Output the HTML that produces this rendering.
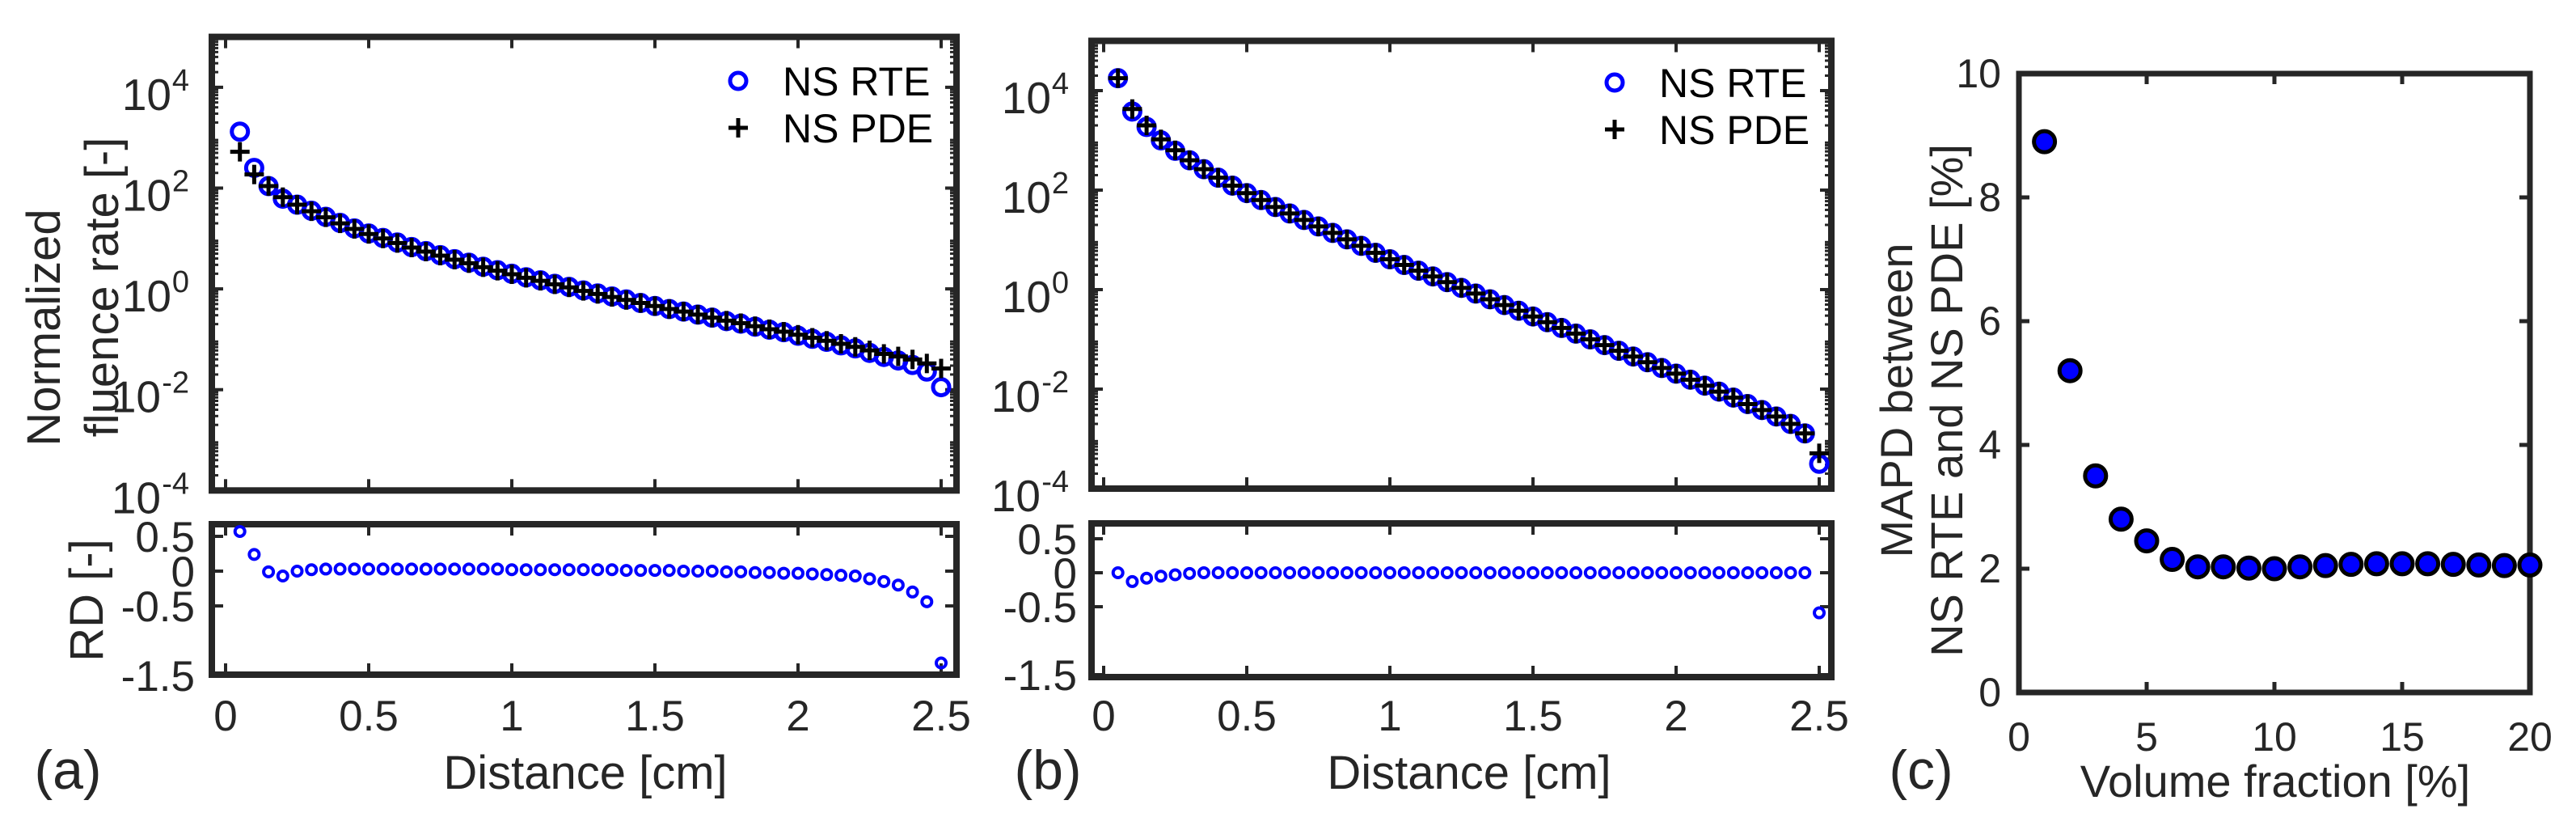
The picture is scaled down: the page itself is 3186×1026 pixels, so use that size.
<!DOCTYPE html>
<html><head><meta charset="utf-8"><style>
html,body{margin:0;padding:0;background:#fff;}
svg{display:block;font-family:"Liberation Sans",Arial,sans-serif;}
</style></head><body>
<svg id="fig" width="3186" height="1026" viewBox="0 0 3186 1026" xmlns="http://www.w3.org/2000/svg">
<rect width="3186" height="1026" fill="#fff"/>
</svg>
<script>
// ---------- data ----------
const distance = [0.05,0.10,0.15,0.20,0.25,0.30,0.35,0.40,0.45,0.50,0.55,0.60,0.65,0.70,0.75,0.80,0.85,0.90,0.95,1.00,1.05,1.10,1.15,1.20,1.25,1.30,1.35,1.40,1.45,1.50,1.55,1.60,1.65,1.70,1.75,1.80,1.85,1.90,1.95,2.00,2.05,2.10,2.15,2.20,2.25,2.30,2.35,2.40,2.45,2.50];
// panel (a): log10 of normalized fluence rate
const aPdeLog = [2.72,2.27,2.04,1.82,1.67,1.54,1.42,1.30,1.19,1.09,1.00,0.91,0.82,0.74,0.66,0.58,0.51,0.43,0.36,0.29,0.22,0.16,0.09,0.03,-0.04,-0.10,-0.16,-0.22,-0.28,-0.34,-0.40,-0.45,-0.51,-0.57,-0.63,-0.68,-0.74,-0.80,-0.85,-0.91,-0.97,-1.03,-1.09,-1.15,-1.22,-1.29,-1.34,-1.40,-1.48,-1.58];
const aRteLog = [3.12,2.40,2.04,1.79,1.67,1.55,1.43,1.31,1.20,1.10,1.01,0.92,0.83,0.75,0.67,0.59,0.52,0.44,0.37,0.30,0.23,0.17,0.10,0.04,-0.03,-0.09,-0.15,-0.21,-0.28,-0.34,-0.40,-0.45,-0.51,-0.57,-0.64,-0.69,-0.75,-0.81,-0.86,-0.93,-0.99,-1.05,-1.12,-1.18,-1.27,-1.35,-1.42,-1.51,-1.64,-1.95];
const aRD = [0.57,0.24,-0.01,-0.07,0.0,0.02,0.03,0.03,0.03,0.03,0.03,0.03,0.03,0.03,0.03,0.03,0.03,0.03,0.03,0.02,0.02,0.02,0.02,0.02,0.02,0.02,0.02,0.01,0.01,0.01,0.01,0.0,0.0,0.0,-0.01,-0.01,-0.02,-0.02,-0.03,-0.03,-0.04,-0.05,-0.06,-0.07,-0.11,-0.15,-0.20,-0.30,-0.44,-1.32];
// panel (b)
const bPdeLog = [4.25,3.63,3.30,3.02,2.80,2.60,2.42,2.25,2.09,1.94,1.80,1.66,1.53,1.40,1.27,1.14,1.01,0.88,0.74,0.61,0.495,0.38,0.265,0.15,0.035,-0.08,-0.195,-0.31,-0.425,-0.54,-0.655,-0.77,-0.885,-1.00,-1.115,-1.23,-1.345,-1.46,-1.575,-1.69,-1.81,-1.93,-2.05,-2.17,-2.30,-2.42,-2.55,-2.70,-2.89,-3.29];
const bRteLog = [4.25,3.58,3.27,3.00,2.79,2.60,2.42,2.25,2.09,1.94,1.80,1.66,1.53,1.40,1.27,1.14,1.01,0.88,0.74,0.61,0.495,0.38,0.265,0.15,0.035,-0.08,-0.195,-0.31,-0.425,-0.54,-0.655,-0.77,-0.885,-1.00,-1.115,-1.23,-1.345,-1.46,-1.575,-1.69,-1.81,-1.93,-2.05,-2.17,-2.30,-2.42,-2.55,-2.70,-2.89,-3.50];
const bRD = [0.0,-0.13,-0.08,-0.05,-0.03,-0.01,0,0,0,0,0,0,0,0,0,0,0,0,0,0,0,0,0,0,0,0,0,0,0,0,0,0,0,0,0,0,0,0,0,0,0,0,0,0,0,0,0,0,0,-0.59];
// panel (c)
const volFrac = [1,2,3,4,5,6,7,8,9,10,11,12,13,14,15,16,17,18,19,20];
const mapd = [8.9,5.2,3.5,2.8,2.45,2.15,2.03,2.03,2.01,2.0,2.03,2.05,2.07,2.08,2.08,2.08,2.07,2.06,2.05,2.06];
const distTicks = [0,0.5,1,1.5,2,2.5];
const distTickLabels = ["0","0.5","1","1.5","2","2.5"];
const logTicks = [4,2,0,-2,-4];
const rdTicks = [0.5,0,-0.5,-1.5];
const rdTickLabels = ["0.5","0","-0.5","-1.5"];
const cXTicks = [0,5,10,15,20];
const cYTicks = [0,2,4,6,8,10];

// ---------- helpers ----------
const NS = "http://www.w3.org/2000/svg";
const svg = document.getElementById("fig");
const INK = "#262626";
function mk(tag, attrs, parent){
  const e = document.createElementNS(NS, tag);
  for (const k in attrs) e.setAttribute(k, attrs[k]);
  (parent||svg).appendChild(e);
  return e;
}
function grp(name){
  const g = mk("g", {});
  
  
  return g;
}
function txt(parent, name, x, y, s, size, anchor, extra){
  const t = mk("text", Object.assign({x:x, y:y, "font-size":size, fill:INK, "text-anchor":anchor||"middle"}, extra||{}), parent);
  t.textContent = s;
  
  
  return t;
}
function box(parent, name, l, t, r, b, w){
  const e = mk("rect", {x:l, y:t, width:r-l, height:b-t, fill:"none", stroke:INK, "stroke-width":w}, parent);
  
  
}
function line(parent, x1,y1,x2,y2,w,col){
  return mk("line",{x1:x1,y1:y1,x2:x2,y2:y2,stroke:col||INK,"stroke-width":w},parent);
}
function circ(parent, name, cx, cy, r, sw){
  const c = mk("circle",{cx:cx,cy:cy,r:r,fill:"none",stroke:"#0000ff","stroke-width":sw},parent);
  
  
}
function plus(parent, name, cx, cy, h){
  const g = mk("g",{},parent);
  
  
  line(g,cx-h,cy,cx+h,cy,5,"#000");
  line(g,cx,cy-h,cx,cy+h,5,"#000");
}

// ---------- distance panels ----------
function distPanel(id, P){
  const g = grp("panel-"+id);
  const xS = v => P.x0 + v*P.xu;
  const yL = v => P.top + (5 - v)*P.dec;
  const yR = v => P.r0 - v*P.ru;
  const top = P.top, bot = P.top + 9*P.dec;
  const ax = grp("fluence-axes-"+id); g.appendChild(ax);
  for (let d=-4; d<5; d++){
    for (let m=2; m<=9; m++){
      const y = yL(d + Math.log10(m));
      line(ax, P.l, y, P.l+8, y, 3); line(ax, P.r, y, P.r-8, y, 3);
    }
  }
  logTicks.forEach(v=>{
    const y=yL(v);
    line(ax,P.l,y,P.l+14,y,4); line(ax,P.r,y,P.r-14,y,4);
    const es = String(v);
    const ew = es.length>1 ? 35 : 22;
    txt(ax, "y-tick-label", P.l-28-ew, y+28, "10", 55, "end");
    txt(ax, "y-tick-exponent", P.l-28, y+4, es, 38, "end");
  });
  distTicks.forEach(v=>{
    const x=xS(v);
    line(ax,x,top,x,top+14,4); line(ax,x,bot,x,bot-14,4);
  });
  box(ax, "fluence-plot-frame-"+id, P.l, top, P.r, bot, 8);
  const sR = grp("series-ns-rte-"+id); g.appendChild(sR);
  const rte = P.rte, pde = P.pde;
  distance.forEach((d,i)=>{ circ(sR, "rte-point", xS(d), yL(rte[i]), 10, 5); });
  const sP = grp("series-ns-pde-"+id); g.appendChild(sP);
  distance.forEach((d,i)=>{ plus(sP, "pde-point", xS(d), yL(pde[i]), 12); });
  const lg = grp("legend-"+id); g.appendChild(lg);
  circ(lg, "legend-rte-marker", P.legX, P.legY, 10, 5);
  txt(lg, "legend-rte-label", P.legX+55, P.legY+18, "NS RTE", 50, "start", {fill:"#000"});
  plus(lg, "legend-pde-marker", P.legX, P.legY+58, 12);
  txt(lg, "legend-pde-label", P.legX+55, P.legY+76, "NS PDE", 50, "start", {fill:"#000"});
  const rd = grp("rd-axes-"+id); g.appendChild(rd);
  rdTicks.forEach((v,i)=>{
    const y=yR(v);
    line(rd,P.l,y,P.l+14,y,4); line(rd,P.r,y,P.r-14,y,4);
    txt(rd, "rd-tick-label", P.rdLabR, y+19, rdTickLabels[i], 53, "end");
  });
  distTicks.forEach((v,i)=>{
    const x=xS(v);
    line(rd,x,P.rTop,x,P.rTop+14,4); line(rd,x,P.rBot,x,P.rBot-14,4);
    txt(rd, "x-tick-label", x, 903, distTickLabels[i], 53, "middle");
  });
  box(rd, "rd-plot-frame-"+id, P.l, P.rTop, P.r, P.rBot, 8);
  const sD = grp("series-rd-"+id); g.appendChild(sD);
  distance.forEach((d,i)=>{ circ(sD, "rd-point", xS(d), yR(P.rd[i]), 6, 4); });
  txt(g, "x-axis-title", P.xtX, 975, "Distance [cm]", 58, "middle");
  txt(g, "panel-label", P.labX, 975, "("+id+")", 68, "middle");
  return g;
}
distPanel("a", {l:262, r:1183, x0:279, xu:354, top:45.6, dec:62.3, r0:706, ru:86, rTop:648, rBot:834,
  rte:aRteLog, pde:aPdeLog, rd:aRD, legX:913, legY:100, rdLabR:241, xtX:724, labX:84});
distPanel("b", {l:1350, r:2265, x0:1365, xu:354, top:50.5, dec:61.5, r0:708, ru:84, rTop:647, rBot:837,
  rte:bRteLog, pde:bPdeLog, rd:bRD, legX:1997, legY:102, rdLabR:1332, xtX:1817, labX:1296});

(function(){
  const g = grp("y-axis-titles-a");
  txt(g, "y-axis-title-line1", 0, 0, "Normalized", 58, "middle", {transform:"translate(74,405) rotate(-90)"});
  txt(g, "y-axis-title-line2", 0, 0, "fluence rate [-]", 58, "middle", {transform:"translate(146,355) rotate(-90)"});
  txt(g, "rd-axis-title", 0, 0, "RD [-]", 58, "middle", {transform:"translate(127,742) rotate(-90)"});
})();

// ---------- panel (c) ----------
(function(){
  const g = grp("panel-c");
  const L=2497, R=3129, T=91, B=856;
  const xS = v => L + v*(R-L)/20;
  const yS = v => B - v*(B-T)/10;
  const ax = grp("mapd-axes"); g.appendChild(ax);
  cYTicks.forEach(v=>{
    const y=yS(v);
    line(ax,L,y,L+13,y,5); line(ax,R,y,R-13,y,5);
    txt(ax,"y-tick-label",2475,y+17,String(v),50,"end");
  });
  cXTicks.forEach(v=>{
    const x=xS(v);
    line(ax,x,T,x,T+13,5); line(ax,x,B,x,B-13,5);
    txt(ax,"x-tick-label",x,928,String(v),50,"middle");
  });
  box(ax,"mapd-plot-frame",L,T,R,B,7);
  const s = grp("series-mapd"); g.appendChild(s);
  volFrac.forEach((v,i)=>{
    const c = mk("circle",{cx:xS(v),cy:yS(mapd[i]),r:13,fill:"#0000ff",stroke:"#000","stroke-width":5},s);
    
    
  });
  txt(g,"x-axis-title",2814,985,"Volume fraction [%]",56,"middle");
  txt(g,"y-axis-title-line1",0,0,"MAPD between",56,"middle",{transform:"translate(2365,495) rotate(-90)"});
  txt(g,"y-axis-title-line2",0,0,"NS RTE and NS PDE [%]",56,"middle",{transform:"translate(2427,495) rotate(-90)"});
  txt(g,"panel-label",2376,975,"(c)",68,"middle");
})();
</script>
</body></html>
